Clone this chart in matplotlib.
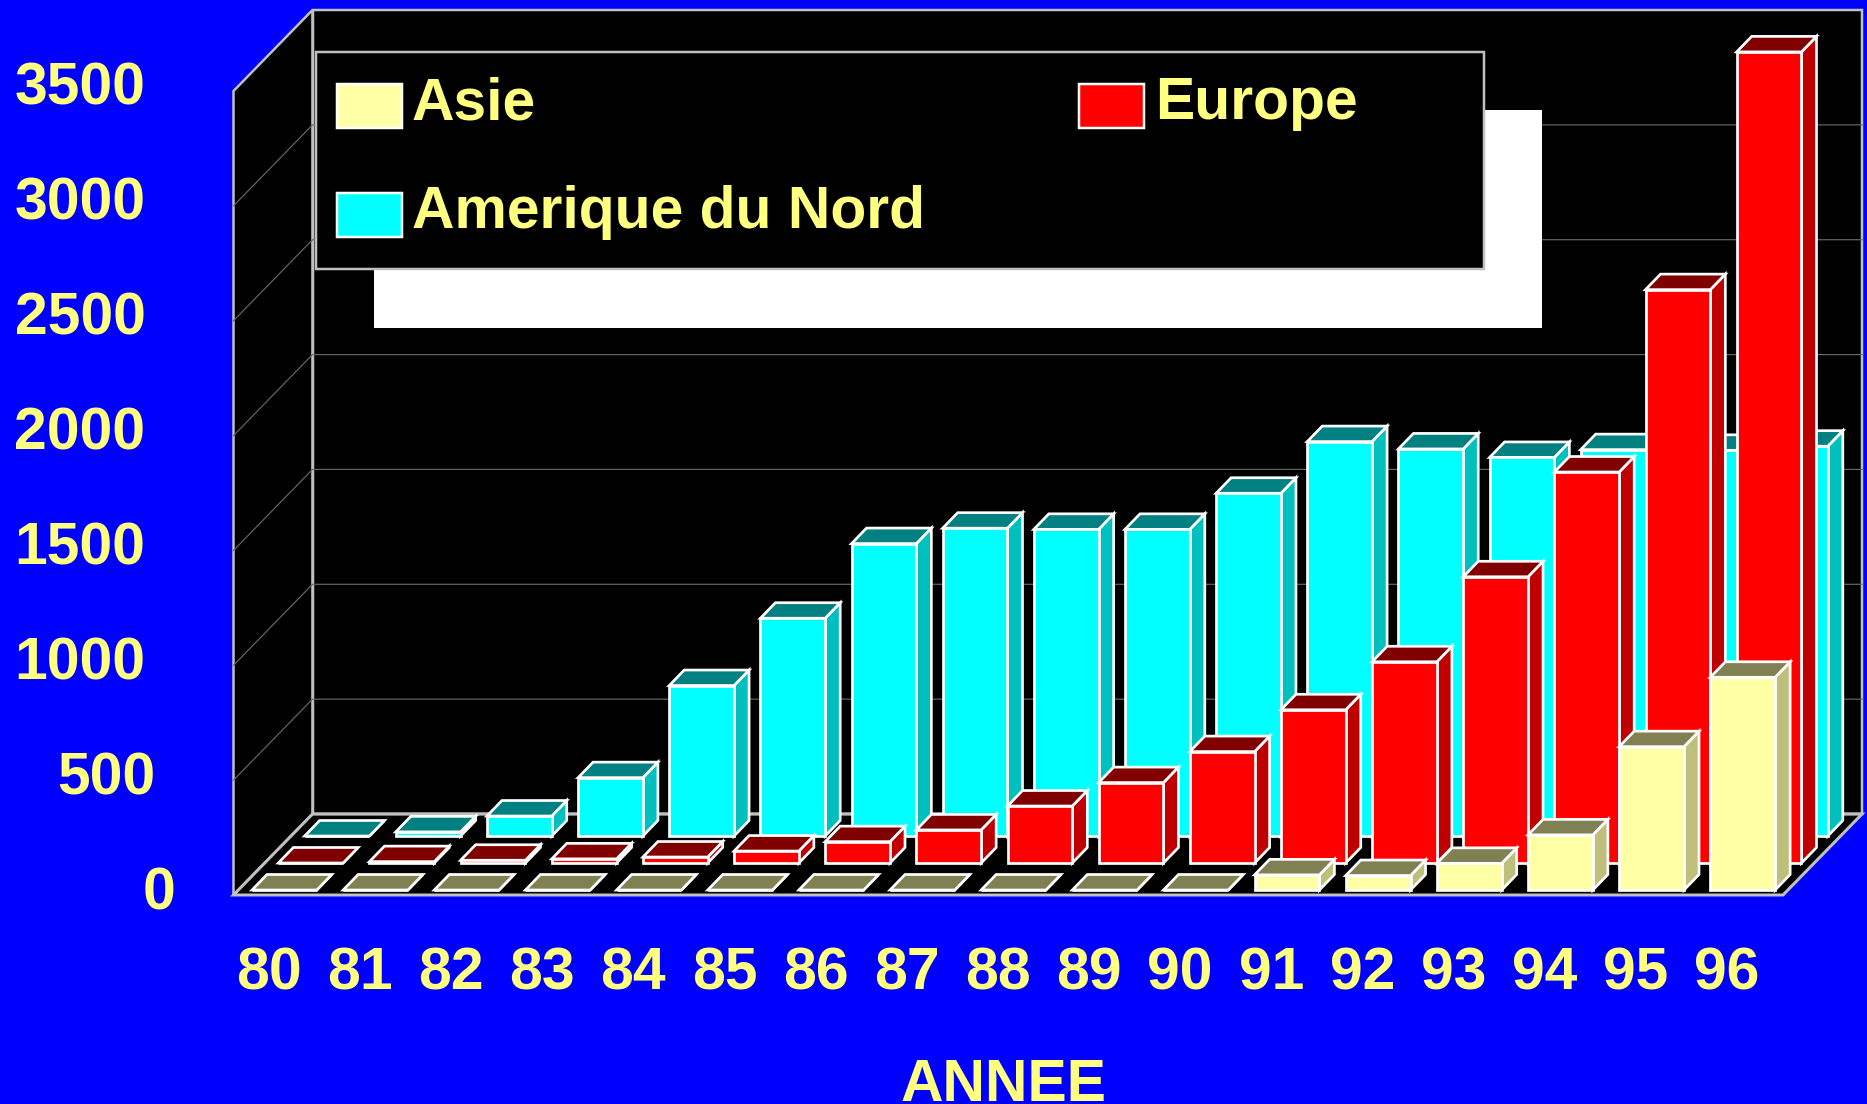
import matplotlib
matplotlib.use("Agg")
import matplotlib.pyplot as plt
from matplotlib.patches import Polygon, Rectangle
from matplotlib.transforms import blended_transform_factory, ScaledTranslation

# ---------- data ----------
years = ["80", "81", "82", "83", "84", "85", "86", "87", "88", "89", "90",
         "91", "92", "93", "94", "95", "96"]
asie = [0, 0, 0, 0, 0, 0, 0, 0, 0, 0, 0, 66, 63, 116, 240, 624, 926]
europe = [0, 6, 12, 18, 26, 52, 93, 144, 248, 350, 485, 667, 876, 1246, 1702, 2496, 3531]
amerique = [0, 18, 87, 254, 655, 948, 1273, 1340, 1335, 1335, 1492, 1717, 1685, 1648, 1682, 1679, 1697]
y_ticks = [0, 500, 1000, 1500, 2000, 2500, 3000, 3500]
legend_labels = ["Asie", "Europe", "Amerique du Nord"]
x_title = "ANNEE"

# ---------- styles ----------
W, H = 1867, 1104
BLUE = "#0000FF"
SILVER = "#C0C0C0"
GRID = "#666666"
TEXT = "#FFFF80"
FONT = "Liberation Sans"
FS = 42.4
PX = 0.72  # points per pixel at dpi 100
EDGE = 2.7 * PX
face = {"a": ("#FFFFA6", "#808053", "#BFBF7C"),
        "e": ("#FF0000", "#800000", "#C00000"),
        "n": ("#00FFFF", "#008080", "#00BFBF")}

fig = plt.figure(figsize=(W / 100, H / 100), dpi=100, facecolor=BLUE)
L, R, B, T = 233.5, 1783.0, 895.0, 91.0
ax = fig.add_axes([L / W, 1 - B / H, (R - L) / W, (B - T) / H])
ax.set_xlim(0, len(years))
ax.set_ylim(0, 3500)
ax.axis("off")

# pixel overlay for legend and text placement
ov = fig.add_axes([0, 0, 1, 1], zorder=5)
ov.set_xlim(0, W)
ov.set_ylim(H, 0)
ov.axis("off")

px_x = (R - L) / len(years)
px_y = (B - T) / 3500
DX, DY = 79 / px_x, 81 / px_y          # full depth of the box
ROW_DX, ROW_DY = DX / 3, DY / 3        # one row of depth
BAR_W = 64.8 / px_x
BAR_DX, BAR_DY = 15 / px_x, 15.5 / px_y
GAP_X, GAP_Y = 18.5 / px_x, 5 / px_y
n = len(years)
ymax = y_ticks[-1]


def poly(pts, fc, ec=None, lw=0.0, z=1):
    ax.add_patch(Polygon(pts, closed=True, facecolor=fc, edgecolor=ec if ec else fc,
                         linewidth=lw, joinstyle="miter", zorder=z, clip_on=False))


# walls and floor
poly([(0, 0), (DX, DY), (DX, DY + ymax), (0, ymax)], "black", SILVER, 2.5 * PX, 1)
poly([(DX, DY), (n + DX, DY), (n + DX, DY + ymax), (DX, DY + ymax)], "black", SILVER, 2.5 * PX, 1)
for v in y_ticks[1:-1]:
    ax.plot([0, DX, n + DX], [v, v + DY, v + DY], color=GRID, lw=1.2 * PX, zorder=2,
            clip_on=False)
poly([(0, 0), (n, 0), (n + DX, DY), (DX, DY)], "black", SILVER, 3 * PX, 3)
ax.plot([DX, n + DX], [DY, DY], color=SILVER, lw=2.5 * PX, zorder=3, clip_on=False)

# bars, back row first
rows = [(2, amerique, "n"), (1, europe, "e"), (0, asie, "a")]
z = 10
for r, vals, key in rows:
    f, t, s = face[key]
    for i, v in enumerate(vals):
        x0 = i + GAP_X + r * ROW_DX
        y0 = GAP_Y + r * ROW_DY
        x1 = x0 + BAR_W
        poly([(x1, y0), (x1 + BAR_DX, y0 + BAR_DY), (x1 + BAR_DX, y0 + BAR_DY + v), (x1, y0 + v)],
             s, "white", EDGE, z)
        poly([(x0, y0 + v), (x1, y0 + v), (x1 + BAR_DX, y0 + v + BAR_DY), (x0 + BAR_DX, y0 + v + BAR_DY)],
             t, "white", EDGE, z)
        poly([(x0, y0), (x1, y0), (x1, y0 + v), (x0, y0 + v)], f, "white", EDGE, z)
        z += 1

# y tick labels: baseline below the tick level on the front plane
ytrans = blended_transform_factory(ov.transData, ax.transData) + \
    ScaledTranslation(0, -14.0 / 100, fig.dpi_scale_trans)
for v in y_ticks:
    right = 175 if v == 0 else (155 if v == 500 else 145.5)
    ax.text(right, v, str(v), transform=ytrans, ha="right", va="baseline",
            color=TEXT, fontfamily=FONT, fontweight="bold", fontsize=FS, clip_on=False)

# x tick labels
xtrans = blended_transform_factory(ax.transData, ov.transData)
for i, lab in enumerate(years):
    ax.text(i + 0.5 - 10.4 / px_x, 989, lab, transform=xtrans, ha="center", va="baseline",
            color=TEXT, fontfamily=FONT, fontweight="bold", fontsize=FS, clip_on=False)
ov.text(1004, 1101, x_title, ha="center", va="baseline", color=TEXT,
        fontfamily=FONT, fontweight="bold", fontsize=FS, clip_on=True)

# legend with white shadow
ov.add_patch(Rectangle((374, 110), 1542 - 374, 327.7 - 110, facecolor="white", edgecolor="none", zorder=1))
ov.add_patch(Rectangle((316, 51.5), 1484 - 316, 268.5 - 51.5, facecolor="black", edgecolor=SILVER,
                       linewidth=2.5 * PX, zorder=2))
entries = [(337, 84, 412, 119.3, "a", legend_labels[0]),
           (1079, 84, 1155.5, 119.3, "e", legend_labels[1]),
           (337, 192.5, 412, 228.5, "n", legend_labels[2])]
for sx, sy, tx, ty, key, lab in entries:
    ov.add_patch(Rectangle((sx, sy), 65, 44, facecolor=face[key][0], edgecolor="white",
                           linewidth=2.5 * PX, zorder=3))
    ov.text(tx, ty, lab, ha="left", va="baseline", color=TEXT, fontfamily=FONT,
            fontweight="bold", fontsize=FS, zorder=3)

fig.savefig("out.png", dpi=100, facecolor=BLUE)
